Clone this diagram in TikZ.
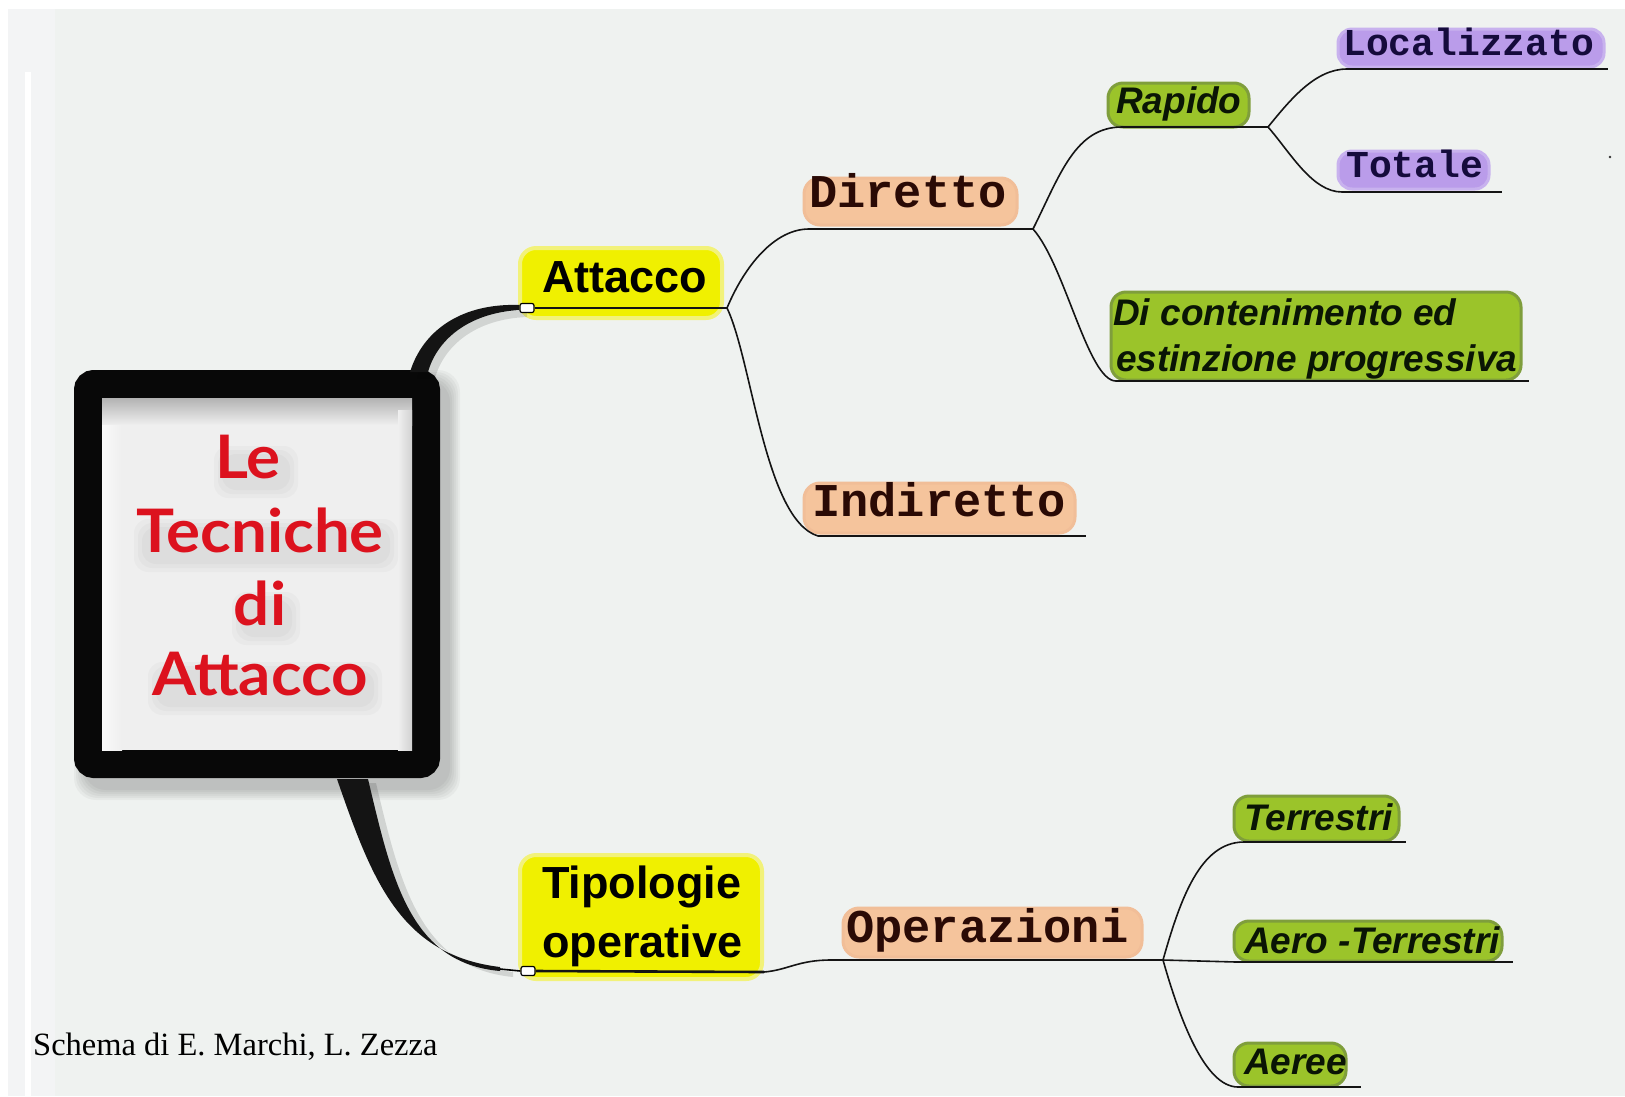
\documentclass[tikz,border=0pt]{standalone}
\usepackage{fontspec}
\setmainfont{Liberation Serif}
\newfontfamily\monof{Liberation Mono}
\newfontfamily\sansf{Liberation Sans}
\newfontfamily\titlef{Lato}
\definecolor{bg}{HTML}{EFF2F0}
\definecolor{bgleft}{HTML}{F3F4F5}
\definecolor{ybg}{HTML}{F0F000}
\definecolor{yedge}{HTML}{F2F27A}
\definecolor{pch}{HTML}{F5C49C}
\definecolor{pchedge}{HTML}{F1BE98}
\definecolor{pchtext}{HTML}{2A0A05}
\definecolor{grn}{HTML}{9BC42A}
\definecolor{grnedge}{HTML}{7F9E3C}
\definecolor{grntext}{HTML}{0A1505}
\definecolor{vio}{HTML}{BA9CEA}
\definecolor{vioedge}{HTML}{C8B2EE}
\definecolor{viotext}{HTML}{150B3C}
\definecolor{titlered}{HTML}{DC121E}
\definecolor{innerbg}{HTML}{EFEFEF}
\tikzset{
  conn/.style={line width=1.6pt, draw=black!92},
  uline/.style={line width=2.6pt, draw=black!92},
  ybox/.style={fill=ybg, draw=yedge, line width=4pt, rounded corners=16pt},
  pbox/.style={fill=pch, draw=pchedge, line width=3pt, rounded corners=16pt},
  gbox/.style={fill=grn, draw=grnedge, line width=3pt, rounded corners=15pt},
  purplebox/.style={fill=vio, draw=vioedge, line width=3pt, rounded corners=14pt},
  ytext/.style={anchor=base west, inner sep=0pt, font=\sansf\bfseries\fontsize{45}{54}\selectfont, text=black},
  mtext/.style={anchor=base west, inner sep=0pt, font=\monof\bfseries\fontsize{47}{56}\selectfont, text=pchtext},
  vtext/.style={anchor=base west, inner sep=0pt, font=\monof\bfseries\fontsize{38}{46}\selectfont, text=viotext},
  gtext/.style={anchor=base west, inner sep=0pt, font=\sansf\bfseries\itshape\fontsize{37}{44}\selectfont, text=grntext},
  ttext/.style={anchor=base, inner sep=0pt, font=\titlef\bfseries\fontsize{60}{72}\selectfont, text=titlered},
  marker/.style={fill=white, draw=black, line width=1.2pt, rounded corners=2pt, minimum width=14pt, minimum height=9pt, inner sep=0pt},
  thick conn/.style={fill=black!92},
  conn shadow/.style={fill=black, opacity=0.12},
  glow/.style={fill=black, opacity=0.022, rounded corners=14pt}
}
\begin{document}
\begin{tikzpicture}[x=1pt,y=-1pt]
\useasboundingbox (0,0) rectangle (1625,1096);
% background
\fill[white] (0,0) rectangle (1625,1096);
\fill[bg] (8,9) rectangle (1625,1096);
\fill[bgleft] (8,9) rectangle (55,1096);
\fill[white] (25,72) rectangle (31,1096);

% drop shadow of central box
\foreach \k in {0,2,...,10}
  \fill[black, opacity=0.035, rounded corners=22pt] (84-\k,380-\k) rectangle (450+\k,790+\k);

% central box
\node[draw=black!97, line width=28pt, fill=innerbg, rounded corners=6pt,
      minimum width=338pt, minimum height=380pt, inner sep=0pt] (cbox) at (257,574) {};
\shade[top color=black!30, bottom color=innerbg] (102,398) rectangle (412,425);
\shade[left color=white!60!innerbg, right color=innerbg] (102,425) rectangle (122,750);
\shade[left color=innerbg, right color=black!18] (398,410) rectangle (412,750);

% soft shadows under the title lines
\foreach \d in {0,4,8} {
  \fill[glow] (222-\d,454-\d) rectangle (290+\d,490+\d);
  \fill[glow] (142-\d,527-\d) rectangle (390+\d,564+\d);
  \fill[glow] (240-\d,600-\d) rectangle (292+\d,637+\d);
  \fill[glow] (156-\d,670-\d) rectangle (374+\d,707+\d);
}

% title
\node[ttext] (t1) at (248,478) {\scalebox{1.06}[1]{Le}};
\node[ttext] (t2) at (260,552) {\scalebox{1.06}[1]{Tecniche}};
\node[ttext] (t3) at (260,625) {\scalebox{1.06}[1]{di}};
\node[ttext] (t4) at (260,695) {\scalebox{1.06}[1]{Attacco}};

% ---------- nodes ----------
% yellow
\fill[ybox] (520,248) rectangle (722,318);
\node[ytext] (attacco) at (542,292) {Attacco};
\fill[ybox] (520,855) rectangle (762,979);
\node[ytext] (tip1) at (542,898) {Tipologie};
\node[ytext] (tip2) at (542,957) {operative};

% peach
\fill[pbox] (804,178) rectangle (1017,225);
\node[mtext] (diretto) at (809,207) {Diretto};
\fill[pbox] (804,483) rectangle (1075,533);
\node[mtext] (indiretto) at (812,516) {Indiretto};
\fill[pbox] (843,908) rectangle (1142,957);
\node[mtext] (operazioni) at (846,942) {Operazioni};

% purple
\fill[purplebox] (1338,29) rectangle (1604,67);
\node[vtext] (localizzato) at (1343,55) {Localizzato};
\fill[purplebox] (1338,151) rectangle (1489,189);
\node[vtext] (totale) at (1346,177) {Totale};

% green
\fill[gbox] (1108,83) rectangle (1249,127);
\node[gtext] (rapido) at (1116,113) {Rapido};
\fill[gbox] (1111,292) rectangle (1521,380);
\node[gtext] (cont1) at (1113,325) {Di contenimento ed};
\node[gtext] (cont2) at (1116,371) {estinzione progressiva};
\fill[gbox] (1234,796) rectangle (1399,841);
\node[gtext] (terrestri) at (1244,830) {Terrestri};
\fill[gbox] (1234,921) rectangle (1502,961);
\node[gtext] (aeroterr) at (1244,953) {Aero -Terrestri};
\fill[gbox] (1234,1043) rectangle (1346,1086);
\node[gtext] (aeree) at (1244,1074) {Aeree};

% credit
\node[anchor=base west, inner sep=0pt, font=\fontsize{32.5}{38}\selectfont] (credit) at (33,1055) {Schema di E. Marchi, L. Zezza};

% tiny dot
\fill[black!80] (1610,157) circle (1.3pt);

% ---------- coordinates ----------
\coordinate (topA) at (410,372);
\coordinate (topB) at (428,372);
\coordinate (botA) at (337,779);
\coordinate (botB) at (368,779);
\coordinate (aR) at (727,308);
\coordinate (tR) at (764,972);
\coordinate (dL) at (809,229);
\coordinate (dR) at (1033,229);
\coordinate (iL) at (818,536);
\coordinate (iR) at (1086,536);
\coordinate (oL) at (831,960);
\coordinate (oR) at (1163,960);
\coordinate (rL) at (1122,127);
\coordinate (rR) at (1268,127);
\coordinate (cL) at (1116,381);
\coordinate (cR) at (1529,381);
\coordinate (lL) at (1347,69);
\coordinate (lR) at (1608,69);
\coordinate (toL) at (1342,192);
\coordinate (toR) at (1502,192);
\coordinate (teL) at (1244,842);
\coordinate (teR) at (1406,842);
\coordinate (atL) at (1236,962);
\coordinate (atR) at (1513,962);
\coordinate (aeL) at (1238,1087);
\coordinate (aeR) at (1361,1087);

% ---------- thick connectors from central box ----------
\fill[conn shadow] ([shift={(7,6)}]topA) .. controls (430,336) and (469,309) .. (527,311)
   -- (527,317) .. controls (475,319) and (444,346) .. ([shift={(7,6)}]topB) -- cycle;
\fill[conn shadow] ([shift={(8,4)}]botA) .. controls (380,884) and (408,959) .. (513,972)
   -- (513,977) .. controls (420,968) and (400,884) .. ([shift={(8,4)}]botB) -- cycle;

\node[marker] (ma) at (527,308) {};
\node[marker] (mt) at (528,971) {};

\fill[thick conn] (topA) .. controls (423,330) and (462,303) .. (ma.west |- 0,305)
   -- (ma.west |- 0,310) .. controls (468,313) and (437,340) .. (topB) -- cycle;
\fill[thick conn] (botA) .. controls (372,880) and (400,955) .. (500,967)
   -- (500,971) .. controls (410,963) and (392,880) .. (botB) -- cycle;
\draw[line width=1.6pt] (500,969) -- (mt.west);

% ---------- underlines ----------
\draw[uline] (ma.east) -- (aR);
\draw[uline] (mt.east) -- (tR);
\draw[uline] (dL) -- (dR);
\draw[uline] (iL) -- (iR);
\draw[uline] (oL) -- (oR);
\draw[uline] (rL) -- (rR);
\draw[uline] (cL) -- (cR);
\draw[uline] (lL) -- (lR);
\draw[uline] (toL) -- (toR);
\draw[uline] (teL) -- (teR);
\draw[uline] (atL) -- (atR);
\draw[uline] (aeL) -- (aeR);

% ---------- thin connectors ----------
\draw[conn] (aR) .. controls (745,265) and (775,229) .. (dL);
\draw[conn] (aR) .. controls (752,360) and (765,520) .. (iL);
\draw[conn] (tR) .. controls (788,970) and (798,960) .. (oL);
\draw[conn] (dR) .. controls (1060,175) and (1075,127) .. (rL);
\draw[conn] (dR) .. controls (1065,265) and (1088,381) .. (cL);
\draw[conn] (rR) .. controls (1290,100) and (1315,69) .. (lL);
\draw[conn] (rR) .. controls (1290,152) and (1312,192) .. (toL);
\draw[conn] (oR) .. controls (1180,900) and (1200,842) .. (teL);
\draw[conn] (oR) -- (atL);
\draw[conn] (oR) .. controls (1180,1020) and (1205,1087) .. (aeL);
\end{tikzpicture}
\end{document}
